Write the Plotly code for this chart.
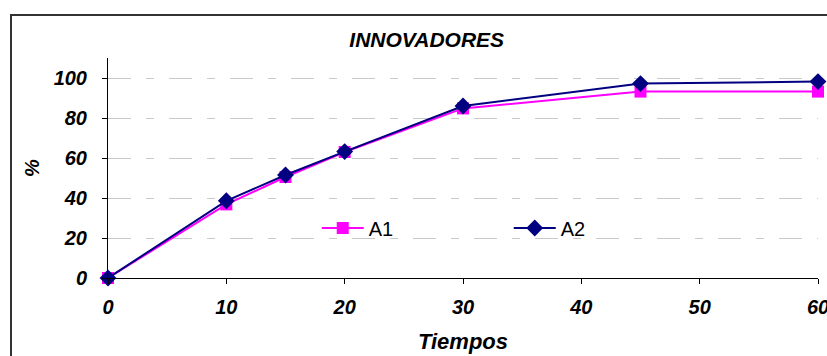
import plotly.graph_objects as go

# Time points and adoption percentages
tiempos = [0, 10, 15, 20, 30, 45, 60]
a1 = [0, 36.8, 50.5, 63, 84.8, 93.2, 93.2]
a2 = [0, 38.6, 51.5, 63.2, 86, 97.2, 98.2]

x_ticks = [0, 10, 20, 30, 40, 50, 60]
y_ticks = [0, 20, 40, 60, 80, 100]

FONT = "Arial, Liberation Sans, sans-serif"
tick_font = dict(family=FONT, size=20, color="black", weight="bold", style="italic")
axis_title_font = dict(family=FONT, size=22, color="black", weight="bold", style="italic")

fig = go.Figure()
fig.add_trace(go.Scatter(
    x=tiempos, y=a1, name="A1", mode="lines+markers",
    line=dict(color="#FF00FF", width=2),
    marker=dict(symbol="square", size=12, color="#FF00FF"),
    cliponaxis=False,
))
fig.add_trace(go.Scatter(
    x=tiempos, y=a2, name="A2", mode="lines+markers",
    line=dict(color="#000080", width=2),
    marker=dict(symbol="diamond", size=13, color="#000080"),
    cliponaxis=False,
))

fig.update_layout(
    width=827, height=356,
    margin=dict(l=108, r=9, t=58, b=78, autoexpand=False),
    paper_bgcolor="white", plot_bgcolor="white",
    showlegend=True,
    title=dict(text="INNOVADORES", x=0.516, xanchor="center",
               y=1 - 40 / 356, yanchor="middle",
               font=dict(family=FONT, size=21, color="black",
                         weight="bold", style="italic")),
    legend=dict(orientation="h", x=0.294, xanchor="left", y=0.227, yanchor="middle",
                bgcolor="rgba(0,0,0,0)", itemwidth=42,
                entrywidth=135, entrywidthmode="pixels",
                font=dict(family=FONT, size=20, color="black")),
    xaxis=dict(
        range=[0, 60], tickvals=x_ticks, showgrid=False, zeroline=False,
        automargin=False,
        showline=True, linecolor="black", linewidth=1,
        ticks="outside", ticklen=5, tickcolor="black",
        tickfont=tick_font, ticklabelstandoff=6, ticklabeloverflow="allow",
        title=dict(text="Tiempos", font=axis_title_font, standoff=16),
    ),
    yaxis=dict(
        range=[0, 110], tickvals=y_ticks, zeroline=False,
        automargin=False,
        showline=True, linecolor="black", linewidth=1,
        ticks="outside", ticklen=5, tickcolor="black",
        tickfont=tick_font, ticklabelstandoff=11,
        showgrid=True, gridcolor="#C8C8C8", gridwidth=1,
        griddash="23px,15px,8px,15px",
        title=dict(text="%", font=tick_font, standoff=8),
    ),
    shapes=[dict(type="rect", xref="paper", yref="paper",
                 x0=(11 - 108) / 710, x1=1.03,
                 y0=-0.4, y1=(278 - 15) / 220,
                 line=dict(color="#333333", width=2), layer="below")],
)

fig.write_html("out.html")
